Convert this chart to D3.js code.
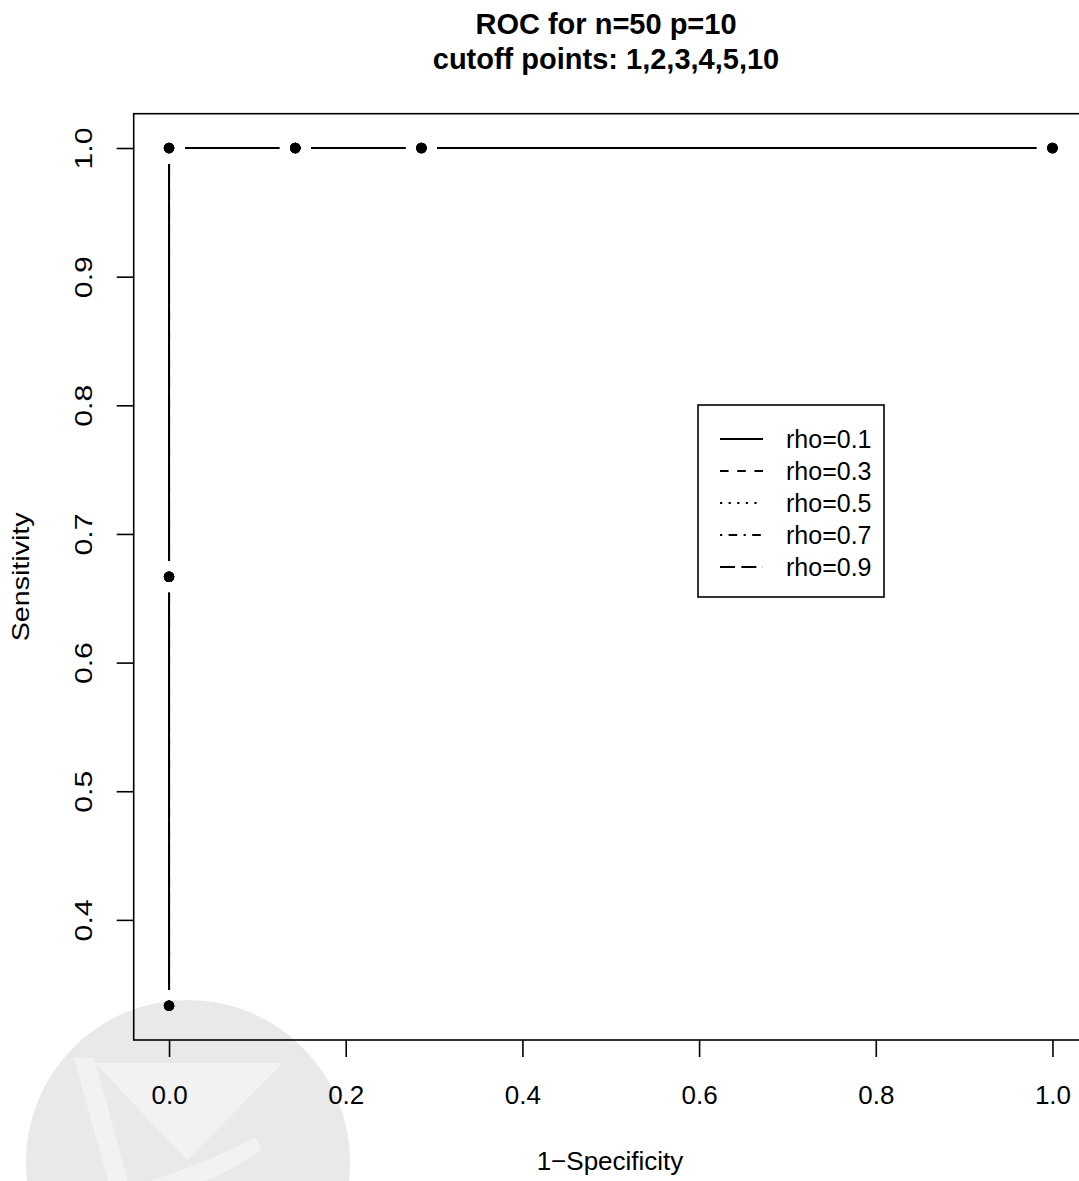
<!DOCTYPE html>
<html>
<head>
<meta charset="utf-8">
<script src="https://cdn.jsdelivr.net/npm/d3@7"></script>
<style>
	body { margin: 0; background: #fff; }
	svg text { font-family: 'Liberation Sans', Arial, sans-serif; fill: #000; }
</style>
</head>
<body>
<svg class="display"></svg>
<script>
// data
const cutoffs = [1, 2, 3, 4, 5, 10];
const rhoLabels = ['rho=0.1', 'rho=0.3', 'rho=0.5', 'rho=0.7', 'rho=0.9'];
// 1-specificity and sensitivity for each cutoff, per rho (all curves overlap)
const fprRho01 = [0, 0, 0, 0.1429, 0.2857, 1];
const fprRho03 = [0, 0, 0, 0.1429, 0.2857, 1];
const fprRho05 = [0, 0, 0, 0.1429, 0.2857, 1];
const fprRho07 = [0, 0, 0, 0.1429, 0.2857, 1];
const fprRho09 = [0, 0, 0, 0.1429, 0.2857, 1];
const tprRho01 = [0.3333, 0.6667, 1, 1, 1, 1];
const tprRho03 = [0.3333, 0.6667, 1, 1, 1, 1];
const tprRho05 = [0.3333, 0.6667, 1, 1, 1, 1];
const tprRho07 = [0.3333, 0.6667, 1, 1, 1, 1];
const tprRho09 = [0.3333, 0.6667, 1, 1, 1, 1];
const xTicks = [0, 0.2, 0.4, 0.6, 0.8, 1.0];
const yTicks = [0.4, 0.5, 0.6, 0.7, 0.8, 0.9, 1.0];

const fprs = [fprRho01, fprRho03, fprRho05, fprRho07, fprRho09];
const tprs = [tprRho01, tprRho03, tprRho05, tprRho07, tprRho09];
// R lty 1..5 scaled to line width
const dashes = [null, '8.6,8.6', '2.2,6.4', '2.2,6.4,8.6,6.4', '15,6.4'];

const totalWidth = 1079,
	totalHeight = 1181,
	plot = { left: 133.7, right: 1087.8, top: 113.7, bottom: 1040 };

const svg = d3.select('.display')
	.attr('width', totalWidth)
	.attr('height', totalHeight);

// faint logo watermark in the lower left corner
const wm = svg.append('g');
wm.append('circle').attr('cx', 188).attr('cy', 1162).attr('r', 162).attr('fill', '#e9e9e9');
wm.append('path')
	.attr('d', 'M95,1063 L283,1063 L187,1160 Z')
	.attr('fill', '#f2f2f2');
wm.append('path')
	.attr('d', 'M74,1058 L94,1058 L128,1181 L108,1181 Z')
	.attr('fill', '#f2f2f2');
wm.append('path')
	.attr('d', 'M150,1181 Q215,1160 255,1137 L262,1150 Q230,1172 205,1181 Z')
	.attr('fill', '#f2f2f2');

// R style axis ranges: data range padded by 4%
const allX = fprs.flat(), allY = tprs.flat();
const xExt = d3.extent(allX), yExt = d3.extent(allY);
const xPad = (xExt[1] - xExt[0]) * 0.04, yPad = (yExt[1] - yExt[0]) * 0.04;

const xScale = d3.scaleLinear()
	.domain([xExt[0] - xPad, xExt[1] + xPad])
	.range([plot.left, plot.right]);
const yScale = d3.scaleLinear()
	.domain([yExt[0] - yPad, yExt[1] + yPad])
	.range([plot.bottom, plot.top]);

// x axis
const xAxis = svg.append('g')
	.attr('transform', 'translate(0,' + plot.bottom + ')')
	.call(d3.axisBottom(xScale).tickValues(xTicks).tickFormat(d3.format('.1f')).tickSize(17).tickPadding(0));
xAxis.select('.domain').remove();
xAxis.selectAll('line').attr('stroke', '#000').attr('stroke-width', 1.6);
xAxis.selectAll('text')
	.attr('y', 64).attr('dy', null)
	.style('font-size', '26px')
	.attr('fill', '#000');

// y axis, labels parallel to the axis
const yAxis = svg.append('g')
	.attr('transform', 'translate(' + plot.left + ',0)')
	.call(d3.axisLeft(yScale).tickValues(yTicks).tickFormat(d3.format('.1f')).tickSize(17).tickPadding(0));
yAxis.select('.domain').remove();
yAxis.selectAll('line').attr('stroke', '#000').attr('stroke-width', 1.6);
yAxis.selectAll('text')
	.attr('x', null).attr('dy', null)
	.attr('transform', 'translate(-42,0) rotate(-90)')
	.attr('text-anchor', 'middle')
	.attr('textLength', 42)
	.attr('lengthAdjust', 'spacingAndGlyphs')
	.style('font-size', '23px')
	.attr('fill', '#000');

// plot box
svg.append('rect')
	.attr('x', plot.left).attr('y', plot.top)
	.attr('width', plot.right - plot.left)
	.attr('height', plot.bottom - plot.top)
	.attr('fill', 'none')
	.attr('stroke', '#000')
	.attr('stroke-width', 1.6);

// type = "b": segments with gaps round the points
const gap = 16;
fprs.forEach((fpr, s) => {
	const pts = fpr.map((v, i) => [xScale(v), yScale(tprs[s][i])]);
	const segs = [];
	for (let i = 0; i < pts.length - 1; i++) {
		const [x0, y0] = pts[i], [x1, y1] = pts[i + 1];
		const len = Math.hypot(x1 - x0, y1 - y0);
		if (len <= 2 * gap) continue;
		const ux = (x1 - x0) / len, uy = (y1 - y0) / len;
		segs.push([x0 + ux * gap, y0 + uy * gap, x1 - ux * gap, y1 - uy * gap]);
	}
	svg.append('g').selectAll('line').data(segs).enter().append('line')
		.attr('x1', (d) => d[0]).attr('y1', (d) => d[1])
		.attr('x2', (d) => d[2]).attr('y2', (d) => d[3])
		.attr('stroke', '#000')
		.attr('stroke-width', 2)
		.attr('stroke-dasharray', dashes[s]);
	svg.append('g').selectAll('circle').data(pts).enter().append('circle')
		.attr('cx', (d) => d[0]).attr('cy', (d) => d[1])
		.attr('r', 5.2)
		.attr('fill', '#000');
});

// legend
const legend = svg.append('g');
legend.append('rect')
	.attr('x', 698).attr('y', 405)
	.attr('width', 186).attr('height', 192)
	.attr('fill', '#fff')
	.attr('stroke', '#000')
	.attr('stroke-width', 1.6);
const row = legend.selectAll('g.row').data(rhoLabels).enter().append('g')
	.attr('class', 'row')
	.attr('transform', (d, i) => 'translate(0,' + (439 + i * 32) + ')');
row.append('line')
	.attr('x1', 720).attr('x2', 763)
	.attr('stroke', '#000')
	.attr('stroke-width', 1.8)
	.attr('stroke-dasharray', (d, i) => dashes[i]);
row.append('text')
	.attr('x', 786).attr('y', 9)
	.style('font-size', '25px')
	.text((d) => d);

// titles
svg.append('text')
	.attr('x', 606).attr('y', 34)
	.attr('text-anchor', 'middle')
	.style('font-size', '29px').style('font-weight', 'bold')
	.text('ROC for n=50 p=10');
svg.append('text')
	.attr('x', 606).attr('y', 69)
	.attr('text-anchor', 'middle')
	.style('font-size', '29px').style('font-weight', 'bold')
	.text('cutoff points: 1,2,3,4,5,10');

svg.append('text')
	.attr('x', 610).attr('y', 1170)
	.attr('text-anchor', 'middle')
	.style('font-size', '26px')
	.text('1\u2212Specificity');
svg.append('text')
	.attr('transform', 'translate(29,' + ((plot.top + plot.bottom) / 2) + ') rotate(-90)')
	.attr('text-anchor', 'middle')
	.attr('textLength', 129)
	.attr('lengthAdjust', 'spacingAndGlyphs')
	.style('font-size', '24px')
	.text('Sensitivity');
</script>
</body>
</html>
